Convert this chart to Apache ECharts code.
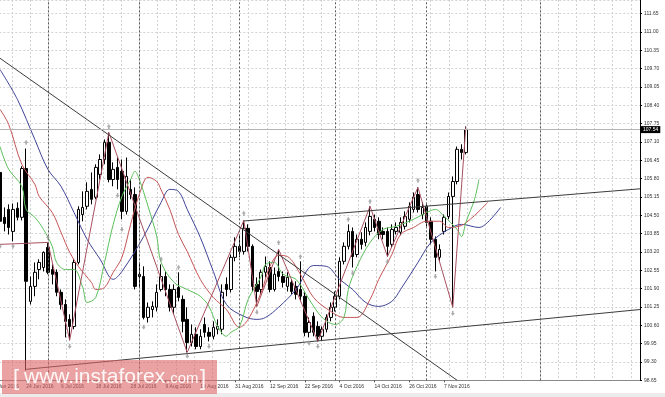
<!DOCTYPE html>
<html><head><meta charset="utf-8">
<script src="https://cdn.jsdelivr.net/npm/echarts/dist/echarts.min.js"></script>
<style>html,body{margin:0;padding:0;background:#fff}#c{width:665px;height:397px}</style>
</head><body><div id="c"></div><script>
// ---- categories (trading days) ----
const MONTHS = ['Jan','Feb','Mar','Apr','May','Jun','Jul','Aug','Sep','Oct','Nov','Dec'];
const categories = [];
(function () {
  let d = new Date(Date.UTC(2016, 5, 14));
  while (categories.length < 150) {
    const wd = d.getUTCDay();
    if (wd !== 0 && wd !== 6) categories.push(d.getUTCDate() + ' ' + MONTHS[d.getUTCMonth()] + ' ' + d.getUTCFullYear());
    d = new Date(d.getTime() + 86400000);
  }
})();
const tickLabels = ['14 Jun 2016','24 Jun 2016','6 Jul 2016','18 Jul 2016','28 Jul 2016','9 Aug 2016','19 Aug 2016','31 Aug 2016','12 Sep 2016','22 Sep 2016','4 Oct 2016','14 Oct 2016','26 Oct 2016','7 Nov 2016'];
const separators = ['1 Jul 2016','1 Aug 2016','1 Sep 2016','3 Oct 2016','1 Nov 2016','7 Dec 2016'];
const firstCandle = '16 Jun 2016';
const lastPrice = 107.54;

// ---- OHLC (from 16 Jun 2016) ----
const open = [106.02,104.43,104.71,103.93,104.75,104.43,106.16,101.45,101.98,102.58,102.65,103.36,102.58,102.48,101.77,101.34,100.81,100.56,102.83,104.53,104.82,105.42,105.14,105.95,106.48,107.09,105.77,106.20,106.06,104.64,105.42,105.24,102.33,102.33,100.88,101.16,101.24,101.87,102.33,101.87,101.24,101.94,101.52,100.81,99.99,100.28,99.85,100.63,100.35,100.21,100.46,100.46,102.05,101.87,103.01,103.40,103.22,104.04,103.40,102.05,101.87,102.48,102.65,101.87,102.51,102.33,101.98,102.12,101.98,101.87,101.63,100.35,100.92,100.56,100.21,100.46,100.88,101.24,101.63,102.87,103.40,103.93,103.11,103.65,103.54,103.93,104.36,104.29,103.93,103.93,103.47,103.93,103.90,104.11,104.36,104.71,105.24,104.53,104.82,104.29,103.65,103.01,103.93,104.46,105.17,105.70,106.84,106.73];
const close = [104.29,104.21,104.07,104.71,104.43,106.16,102.16,101.98,102.48,102.83,103.19,102.48,102.41,101.77,101.34,100.74,100.56,102.83,104.71,104.78,105.35,105.07,106.20,106.48,107.09,105.77,106.13,105.77,104.64,105.88,105.24,101.98,102.41,100.88,101.24,101.27,101.77,102.33,101.87,101.24,101.87,101.59,100.74,99.99,100.28,99.85,100.21,100.35,100.21,100.53,100.56,101.77,101.87,103.01,103.40,103.22,104.04,103.40,101.98,101.80,102.48,102.69,101.87,102.41,102.33,102.12,102.30,101.80,101.70,101.63,100.35,100.70,100.35,100.21,100.46,100.88,101.24,101.63,102.87,103.40,103.93,103.04,103.65,103.47,104.07,104.46,104.07,103.82,103.82,103.40,104.00,104.07,104.25,104.46,104.82,105.14,104.71,104.78,104.25,103.65,103.01,103.29,104.43,105.17,105.70,106.84,106.73,107.54];
const high = [106.31,104.78,104.89,104.92,104.96,106.24,106.87,102.33,102.83,102.94,103.22,103.54,102.76,102.58,101.87,101.52,100.99,102.94,104.82,105.35,105.67,106.02,106.31,106.66,107.19,107.44,106.38,106.55,106.48,106.55,105.77,105.49,102.83,102.69,101.41,101.45,102.05,102.76,102.51,102.05,102.05,102.48,101.66,101.24,100.63,100.53,100.46,100.88,100.53,100.74,100.81,102.05,102.30,103.11,103.72,103.79,104.32,104.18,103.47,102.30,102.58,103.04,102.87,102.65,103.29,102.51,102.48,102.23,102.16,102.87,101.77,100.88,101.06,100.74,100.56,100.99,101.41,101.80,103.01,103.54,104.18,104.07,103.82,103.90,104.25,104.82,104.53,104.43,104.07,104.07,104.18,104.25,104.43,104.64,104.96,105.31,105.49,104.96,104.89,104.43,103.75,103.47,104.53,105.31,105.88,106.94,107.02,107.65];
const low = [104.07,103.93,103.82,103.58,104.32,104.32,99.00,101.34,101.63,102.23,102.51,102.41,102.05,101.63,101.16,100.17,100.07,100.46,102.76,104.29,104.71,104.89,105.07,105.77,106.31,105.67,105.53,105.42,104.36,104.53,105.07,101.87,101.94,100.81,100.70,100.88,101.09,101.80,101.63,101.09,100.99,101.45,100.35,99.64,99.85,99.75,99.75,100.17,100.03,100.10,100.28,100.28,101.63,101.77,102.87,103.01,103.11,103.22,101.80,101.27,101.70,102.30,101.77,101.80,102.16,101.94,101.80,101.70,101.52,101.45,100.21,100.17,100.21,100.03,100.07,100.35,100.74,101.09,101.52,102.76,103.29,102.65,103.01,103.29,103.40,103.79,103.93,103.65,103.65,103.04,103.36,103.82,103.79,104.00,104.25,104.60,104.60,104.36,104.11,103.47,102.51,102.87,103.82,104.36,101.24,105.60,106.48,106.66];

// ---- indicator lines [category index, price] ----
const jawBlue = [[2,109.67],[6,108.61],[10,107.19],[13,106.13],[16,105.53],[19,104.60],[22,103.65],[25,102.94],[28,102.23],[30,102.51],[35,103.75],[39,104.96],[41,105.42],[43,105.35],[45,104.71],[48,103.72],[51,102.51],[54,101.34],[58,100.92],[61,100.81],[63,100.88],[66,101.24],[70,101.87],[74,102.72],[77,102.69],[80,102.23],[83,101.87],[86,101.41],[89,101.27],[92,101.45],[94,101.87],[98,102.83],[101,103.54],[105,104.00],[108,104.18],[112,104.07],[114,104.25],[117,104.78]];
const teethRed = [[2,108.26],[4,107.72],[7,106.31],[10,105.60],[11,105.17],[14,104.60],[16,103.90],[18,103.19],[20,102.69],[23,102.12],[24,101.87],[26,101.94],[28,102.48],[30,103.01],[32,104.18],[34,105.24],[36,105.85],[38,105.70],[39,105.40],[41,104.71],[43,103.82],[45,103.22],[48,102.23],[51,101.59],[54,101.16],[57,100.53],[59,100.81],[62,101.77],[64,102.69],[66,103.08],[68,103.04],[71,102.41],[74,101.59],[78,101.09],[81,100.88],[84,100.88],[87,101.52],[89,102.23],[92,103.11],[94,103.82],[97,104.07],[100,104.29],[103,104.29],[105,104.07],[108,104.14],[110,104.36],[112,104.64],[114,104.96]];
const lipsGreen = [[2,106.94],[4,106.13],[7,105.53],[8,104.71],[10,104.43],[12,104.00],[14,103.40],[15,102.83],[17,102.58],[19,102.58],[21,101.94],[22,101.41],[24,101.59],[26,102.83],[28,104.18],[30,105.17],[32,105.77],[33,106.06],[34,105.77],[36,104.82],[38,103.75],[39,102.83],[42,102.12],[45,101.87],[48,101.63],[50,101.27],[52,100.56],[54,100.21],[55,100.35],[57,100.56],[59,101.52],[62,102.33],[63,102.76],[65,102.83],[67,102.41],[70,102.23],[73,101.52],[76,100.88],[79,100.63],[81,100.88],[82,101.87],[84,102.69],[87,103.54],[90,104.00],[93,104.11],[97,104.36],[100,104.60],[102,104.71],[104,104.46],[107,104.00],[108,103.75],[109,104.25],[111,105.07],[112,105.77]];
const zigzag = [[2,103.47],[13,103.54],[18,100.07],[27,107.44],[45,99.64],[58,104.32],[61,101.27],[66,103.29],[75,100.03],[87,104.82],[91,103.04],[98,105.49],[106,101.24],[109,107.65]];
const trendDown = [[2,110.07],[107,98.65]];
const channelUpper = [[58,104.30],[149,105.44]];
const channelLower = [[8,99.04],[149,101.16]];
const fractalUp = [[8,107.09],[13,103.72],[27,107.65],[39,102.95],[43,102.66],[58,104.57],[66,103.54],[71,103.04],[82,104.36],[87,105.00],[98,105.74]];
const fractalDown = [[2,103.40],[5,103.40],[18,99.85],[29,105.20],[30,104.00],[35,100.53],[45,99.50],[50,99.85],[61,101.06],[73,99.96],[75,99.85],[83,102.45],[91,102.85],[102,102.33],[106,101.02]];

// ---- build ----
const startK = categories.indexOf(firstCandle);
const candleData = open.map((o, j) => [startK + j, o, close[j], low[j], high[j]]);
const tickSet = new Set(tickLabels);
const FONT = '"Liberation Sans", Arial, sans-serif';
const arrow = 'path://M5,0 L10,6 L7,6 L7,10 L3,10 L3,6 L0,6 Z';
const chart = echarts.init(document.getElementById('c'), null, {renderer: 'canvas'});

function lineSeries(data, color, z, smooth) {
  return {type: 'line', data: data, smooth: smooth, showSymbol: false, symbol: 'none', z: z,
    lineStyle: {color: color, width: 1}, silent: true, clip: true};
}

chart.setOption({
  animation: false,
  backgroundColor: '#fff',
  grid: [
    {left: -8.7, right: 25, top: 0, bottom: 16.7, containLabel: false, outerBoundsMode: 'none'},
    {left: -6.2, right: 25, top: 0, bottom: 16.7, containLabel: false, outerBoundsMode: 'none'}
  ],
  xAxis: [
    {type: 'category', data: categories, boundaryGap: false, gridIndex: 0,
      axisLine: {lineStyle: {color: '#8a8a8a', width: 1}},
      axisTick: {show: true, length: 2, interval: (i, v) => tickSet.has(v), lineStyle: {color: '#555'}},
      axisLabel: {interval: (i, v) => tickSet.has(v), align: 'left', fontSize: 5, color: '#333', margin: 4, fontFamily: FONT, hideOverlap: false},
      splitLine: {show: false}},
    {type: 'value', gridIndex: 1, min: 0, max: 35.5, interval: 1,
      axisLine: {show: false}, axisTick: {show: false}, axisLabel: {show: false},
      splitLine: {show: true, lineStyle: {color: '#d2d2d2', type: [2, 2], width: 1}}}
  ],
  yAxis: [
    {type: 'value', position: 'right', gridIndex: 0, min: 98.65, max: 112.136, interval: 0.65, scale: true,
      axisLine: {show: true, lineStyle: {color: '#000', width: 1}},
      axisTick: {show: true, length: 2, lineStyle: {color: '#000'}},
      axisLabel: {fontSize: 5, color: '#333', margin: 4, fontFamily: FONT, showMaxLabel: false,
        formatter: v => v.toFixed(2)},
      splitLine: {show: true, lineStyle: {color: '#d2d2d2', type: [2, 2], width: 1}}},
    {type: 'value', gridIndex: 1, min: 0, max: 1, show: false}
  ],
  series: [
    {type: 'line', xAxisIndex: 1, yAxisIndex: 1, data: [], silent: true},
    {type: 'line', data: [], z: 1, silent: true,
      markLine: {symbol: ['none', 'none'], silent: true, animation: false,
        data: separators.map(s => ({xAxis: s, label: {show: false},
          lineStyle: {color: '#5a5a5a', type: [2, 2], width: 1}})).concat([
          {yAxis: lastPrice, lineStyle: {color: '#b4b4b4', type: 'solid', width: 1},
           label: {show: true, position: 'end', formatter: lastPrice.toFixed(2), color: '#fff',
             backgroundColor: '#000', fontSize: 5, fontFamily: FONT, padding: [1, 2, 1, 3], distance: 0}}
        ])}},
    {type: 'candlestick', data: candleData, encode: {x: 0, y: [1, 2, 3, 4]}, barWidth: 3, z: 2, silent: true,
      itemStyle: {color: '#ffffff', color0: '#000000', borderColor: '#000000', borderColor0: '#000000', borderWidth: 1}},
    lineSeries(jawBlue, '#3f4496', 3, 0.35),
    lineSeries(teethRed, '#c45555', 3, 0.35),
    lineSeries(lipsGreen, '#5cbf5c', 3, 0.35),
    lineSeries(zigzag, '#a8505f', 4, false),
    lineSeries(trendDown, '#3c3c3c', 4, false),
    lineSeries(channelUpper, '#3c3c3c', 4, false),
    lineSeries(channelLower, '#3c3c3c', 4, false),
    {type: 'scatter', data: fractalUp, symbol: arrow, symbolSize: [4, 5], z: 5, silent: true,
      itemStyle: {color: '#999'}},
    {type: 'scatter', data: fractalDown, symbol: arrow, symbolSize: [4, 5], symbolRotate: 180, z: 5, silent: true,
      itemStyle: {color: '#999'}}
  ],
  graphic: [
    {type: 'rect', left: 0, top: 393, shape: {width: 665, height: 4}, style: {fill: '#ececec'}, z: 0, silent: true},
    {type: 'rect', shape: {x: 2, y: 360, width: 215, height: 34}, style: {fill: 'rgba(222,100,100,0.6)'}, z: 100, silent: true},
    {type: 'text', z: 101, silent: true, style: {x: 13, y: 379, text: '[', fill: 'rgba(255,255,255,0.9)', font: '22px ' + FONT, verticalAlign: 'middle'}},
    {type: 'text', z: 101, silent: true, style: {x: 24, y: 377, text: 'www.instaforex', fill: 'rgba(255,255,255,0.92)', font: '21px ' + FONT, verticalAlign: 'middle'}},
    {type: 'text', z: 101, silent: true, style: {x: 166, y: 379, text: '.com', fill: 'rgba(255,255,255,0.92)', font: '15px ' + FONT, verticalAlign: 'middle'}},
    {type: 'text', z: 101, silent: true, style: {x: 200, y: 379, text: ']', fill: 'rgba(255,255,255,0.9)', font: '22px ' + FONT, verticalAlign: 'middle'}}
  ]
});
</script></body></html>
